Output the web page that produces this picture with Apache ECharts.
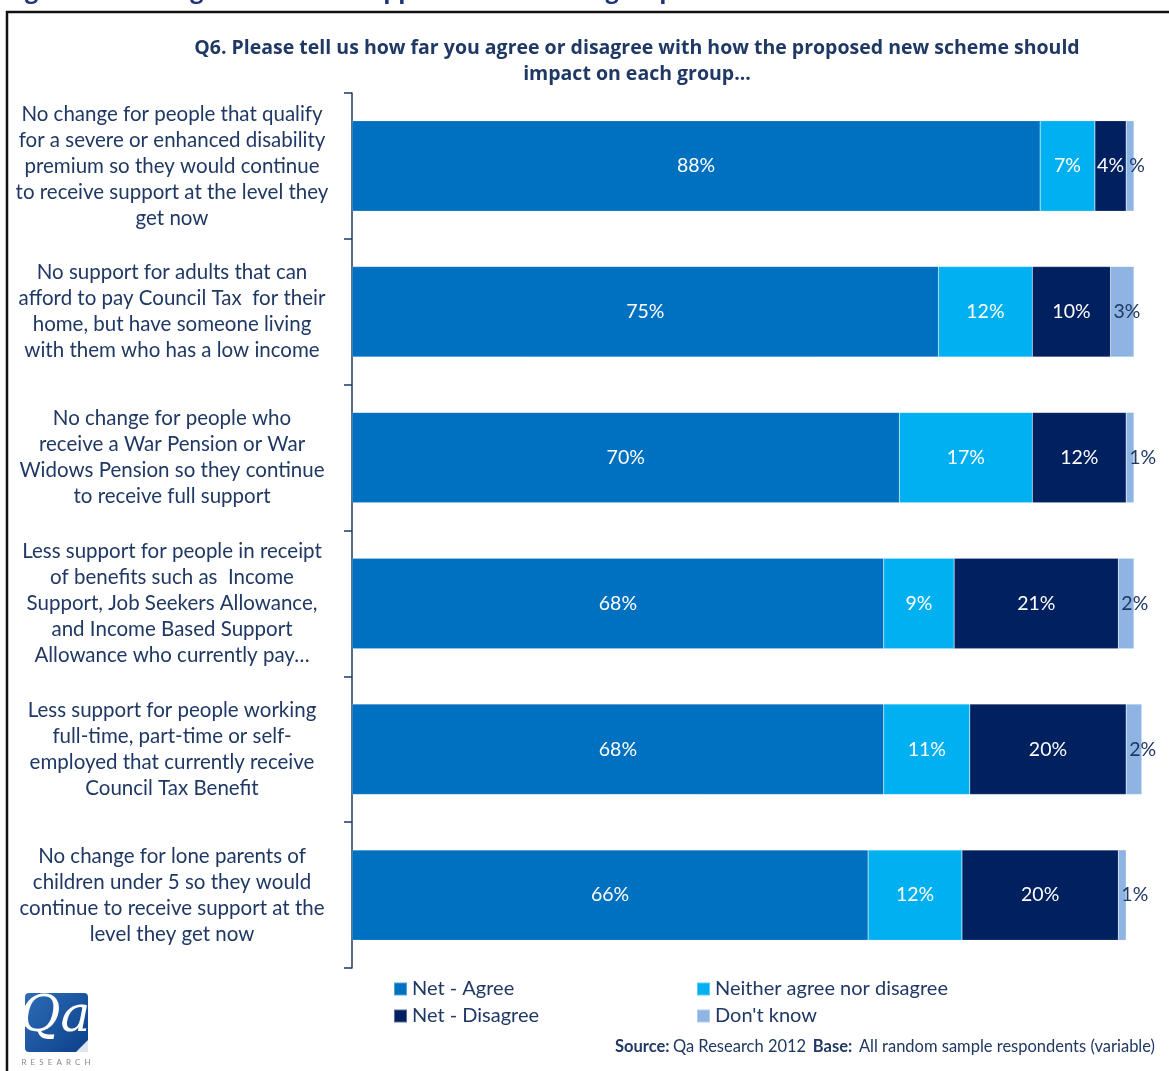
<!DOCTYPE html>
<html>
<head>
<meta charset="utf-8">
<script src="https://cdn.jsdelivr.net/npm/echarts@6/dist/echarts.min.js"></script>
<style>
  html, body { margin: 0; padding: 0; background: #fff; }
  #chart { width: 1169px; height: 1071px; }
</style>
</head>
<body>
<div id="chart"></div>
<script>
// Statements asked about in Q6 (top to bottom)
const categories = [
  'No change for people that qualify\nfor a severe or enhanced disability\npremium so they would continue\nto receive support at the level they\nget now',
  'No support for adults that can\nafford to pay Council Tax  for their\nhome, but have someone living\nwith them who has a low income',
  'No change for people who\nreceive a War Pension or War\nWidows Pension so they continue\nto receive full support',
  'Less support for people in receipt\nof benefits such as  Income\nSupport, Job Seekers Allowance,\nand Income Based Support\nAllowance who currently pay…',
  'Less support for people working\nfull-time, part-time or self-\nemployed that currently receive\nCouncil Tax Benefit',
  'No change for lone parents of\nchildren under 5 so they would\ncontinue to receive support at the\nlevel they get now'
];

// Percentages by response
const netAgree    = [88, 75, 70, 68, 68, 66];
const neither     = [7, 12, 17, 9, 11, 12];
const netDisagree = [4, 10, 12, 21, 20, 20];
const dontKnow    = [1, 3, 1, 2, 2, 1];
const dontKnowLabels = ['%', '3%', '1%', '2%', '2%', '1%'];

const seriesNames = ['Net - Agree', 'Neither agree nor disagree', 'Net - Disagree', "Don't know"];
const seriesColors = ['#0070C0', '#00B0F0', '#002060', '#8DB4E2'];

const NAVY = '#1F3864';
const FONT = 'Lato, "Open Sans", sans-serif';
const BOLD_FONT = '"Open Sans", Lato, sans-serif';

const chart = echarts.init(document.getElementById('chart'), null, { renderer: 'canvas' });

function barSeries(name, data, color, labelColor, opts) {
  return Object.assign({
    name: name,
    type: 'bar',
    stack: 'total',
    data: data,
    barCategoryGap: '38%',
    clip: false,
    itemStyle: { color: color, borderColor: 'rgba(255,255,255,0.35)', borderWidth: 0.5 },
    label: {
      show: true,
      position: 'inside',
      color: labelColor,
      fontFamily: FONT,
      fontSize: 19.5,
      formatter: p => p.value + '%'
    },
    emphasis: { disabled: true }
  }, opts || {});
}

const legendText = { color: NAVY, fontFamily: FONT, fontSize: 20 };

chart.setOption({
  animation: false,
  grid: { left: 352, right: 35, top: 93, bottom: 103 },
  xAxis: {
    type: 'value',
    min: 0,
    max: 100,
    show: false
  },
  yAxis: {
    type: 'category',
    inverse: true,
    data: categories,
    axisLine: { show: true, lineStyle: { color: NAVY, width: 1.5 } },
    axisTick: { show: true, length: 8, lineStyle: { color: NAVY, width: 1.5 } },
    axisLabel: {
      margin: 180,
      align: 'center',
      color: NAVY,
      fontFamily: FONT,
      fontSize: 20.5,
      lineHeight: 26
    }
  },
  legend: [
    {
      orient: 'vertical',
      left: 393, top: 979, padding: 0,
      itemWidth: 13, itemHeight: 13, itemGap: 7,
      icon: 'rect',
      data: [seriesNames[0], seriesNames[2]],
      textStyle: legendText
    },
    {
      orient: 'vertical',
      left: 696, top: 979, padding: 0,
      itemWidth: 13, itemHeight: 13, itemGap: 7,
      icon: 'rect',
      data: [seriesNames[1], seriesNames[3]],
      textStyle: legendText
    }
  ],
  series: [
    barSeries(seriesNames[0], netAgree, seriesColors[0], '#fff'),
    barSeries(seriesNames[1], neither, seriesColors[1], '#fff'),
    barSeries(seriesNames[2], netDisagree, seriesColors[2], '#fff'),
    barSeries(seriesNames[3], dontKnow, seriesColors[3], NAVY, {
      label: {
        show: true,
        position: 'insideLeft',
        distance: 3,
        color: NAVY,
        fontFamily: FONT,
        fontSize: 19.5,
        formatter: p => dontKnowLabels[p.dataIndex]
      }
    })
  ],
  graphic: [
    // figure caption running off the top of the page
    {
      type: 'text', left: 5, top: -21, silent: true,
      style: {
        text: 'Figure 10:  Changes to council support for different groups',
        fill: '#1F3477', font: 'bold 23.5px ' + BOLD_FONT
      }
    },
    // outer frame
    {
      type: 'rect', silent: true,
      shape: { x: 7, y: 12, width: 1180, height: 1080 },
      style: { fill: 'none', stroke: '#111', lineWidth: 2.5 }
    },
    // question text
    {
      type: 'text', x: 637, y: 35, silent: true,
      style: {
        text: 'Q6. Please tell us how far you agree or disagree with how the proposed new scheme should\nimpact on each group...',
        align: 'center', fill: NAVY, font: 'bold 19.5px ' + BOLD_FONT, lineHeight: 26
      }
    },
    // Qa Research logo
    {
      type: 'rect', silent: true,
      shape: { x: 25, y: 993, width: 63, height: 59, r: 4 },
      style: {
        fill: new echarts.graphic.LinearGradient(0, 0, 1, 1, [
          { offset: 0, color: '#2E6DB8' }, { offset: 1, color: '#0B3F88' }
        ])
      }
    },
    {
      type: 'polygon', silent: true,
      shape: { points: [[88, 1040], [88, 1052], [76, 1052]] },
      style: { fill: '#dfe6ef' }
    },
    {
      type: 'text', x: 55, y: 993, silent: true,
      style: {
        text: 'Qa', align: 'center', fill: '#fff',
        font: 'italic 50px "DejaVu Serif", serif'
      }
    },
    {
      type: 'text', x: 56, y: 1058, silent: true,
      style: {
        text: 'R  E  S  E  A  R  C  H', align: 'center', fill: '#8a8a8a',
        font: '8px ' + FONT
      }
    },
    // source line
    {
      type: 'text', right: 14, top: 1038, silent: true,
      style: {
        text: '{b|Source:} {n|Qa Research 2012}  {b|Base:}  {n|All random sample respondents (variable)}',
        rich: {
          b: { fill: NAVY, font: 'bold 16.5px ' + FONT },
          n: { fill: NAVY, font: '16.5px ' + FONT }
        }
      }
    }
  ]
});
</script>
</body>
</html>
